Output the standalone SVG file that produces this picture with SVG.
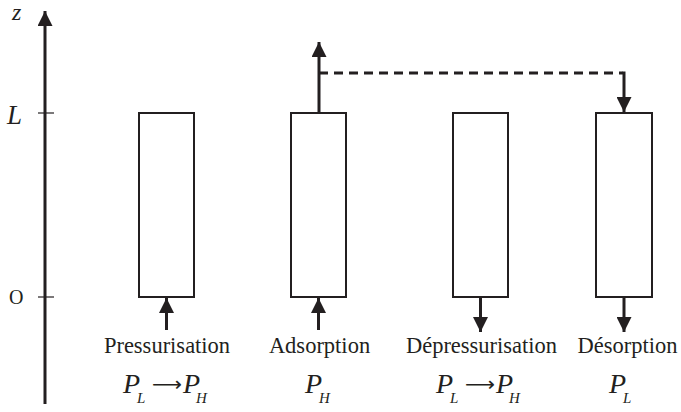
<svg xmlns="http://www.w3.org/2000/svg" width="681" height="412" viewBox="0 0 681 412">
<style>
.box{fill:#fff;stroke:#231f20;stroke-width:2}
.ln{stroke:#231f20;stroke-width:3;fill:none}
.tk{stroke:#231f20;stroke-width:1.2}
text{font-family:'Liberation Serif','Times New Roman','DejaVu Serif',serif;fill:#231f20}
.lbl{font-size:22.5px;text-anchor:middle}
.m{font-style:italic;font-size:28px}
.s{font-style:italic;font-size:15px}
.ar{font-family:'DejaVu Sans',sans-serif;font-size:20px}
</style>
<defs>
<marker id="ah" viewBox="0 0 10 10" refX="10" refY="5" markerWidth="5" markerHeight="5" markerUnits="strokeWidth" orient="auto">
<path d="M0,0 L10,5 L0,10 Z" fill="#231f20"/>
</marker>
</defs>
<g id="axis">
<line class="ln" x1="45" y1="404" x2="45" y2="11" marker-end="url(#ah)"/>
<line class="tk" x1="38" y1="113" x2="54" y2="113"/>
<line class="tk" x1="38" y1="297" x2="54" y2="297"/>
<text class="m" x="12" y="20" style="font-size:24px">z</text>
<text class="m" x="7" y="124" style="font-size:27px">L</text>
<text x="9" y="304" style="font-size:20px">O</text>
</g>
<g id="pressurisation">
<rect class="box" x="139" y="113" width="55" height="184"/>
<text class="lbl" x="167" y="353">Pressurisation</text>
<text class="m" x="123" y="393">P</text><text class="s" x="137" y="403">L</text>
<text class="ar" x="152" y="391" textLength="30" lengthAdjust="spacingAndGlyphs">⟶</text>
<text class="m" x="183" y="393">P</text><text class="s" x="196" y="403">H</text>
</g>
<g id="adsorption">
<rect class="box" x="291" y="113" width="55" height="184"/>
<text class="lbl" x="319.5" y="353">Adsorption</text>
<text class="m" x="305" y="393">P</text><text class="s" x="319" y="403">H</text>
</g>
<g id="depressurisation">
<rect class="box" x="453" y="113" width="55" height="184"/>
<text class="lbl" x="481.5" y="353">Dépressurisation</text>
<text class="m" x="436" y="393">P</text><text class="s" x="450" y="403">L</text>
<text class="ar" x="465" y="391" textLength="30" lengthAdjust="spacingAndGlyphs">⟶</text>
<text class="m" x="496" y="393">P</text><text class="s" x="509" y="403">H</text>
</g>
<g id="desorption">
<rect class="box" x="596" y="113" width="56" height="184"/>
<text class="lbl" x="627.5" y="353">Désorption</text>
<text class="m" x="609" y="393">P</text><text class="s" x="623" y="403">L</text>
</g>
<g id="connectors">
<line class="ln" x1="166.5" y1="330" x2="166.5" y2="298" marker-end="url(#ah)"/>
<line class="ln" x1="318.5" y1="330" x2="318.5" y2="298" marker-end="url(#ah)"/>
<line class="ln" x1="480.5" y1="298" x2="480.5" y2="332" marker-end="url(#ah)"/>
<line class="ln" x1="624" y1="298" x2="624" y2="332" marker-end="url(#ah)"/>
<line class="ln" x1="319" y1="112" x2="319" y2="42" marker-end="url(#ah)"/>
<line class="ln" x1="319" y1="73" x2="623" y2="73" stroke-dasharray="9,6"/>
<line class="ln" x1="624" y1="71.5" x2="624" y2="112" marker-end="url(#ah)"/>
</g>
</svg>
